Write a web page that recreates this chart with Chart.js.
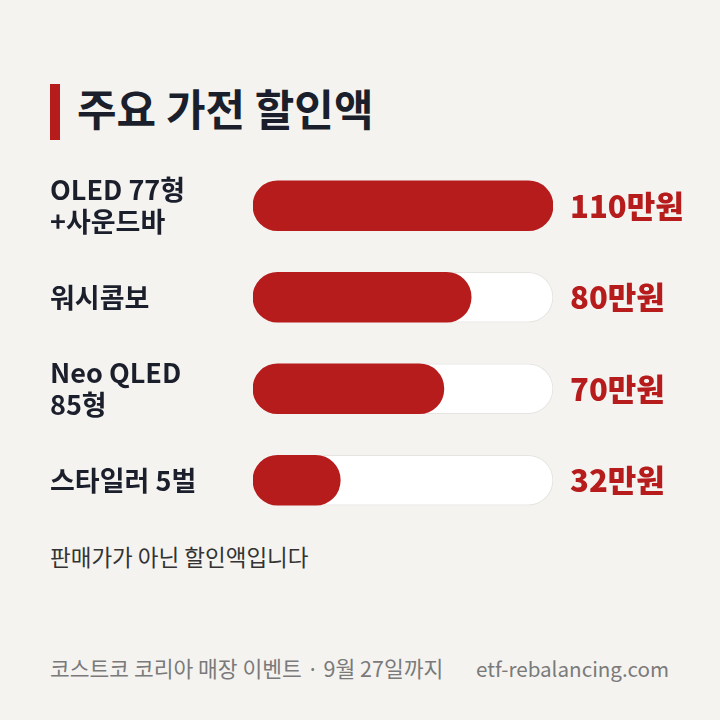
<!DOCTYPE html>
<html><head><meta charset="utf-8">
<script src="https://cdn.jsdelivr.net/npm/chart.js@4.4.1/dist/chart.umd.min.js"></script>
<style>
html,body{margin:0;padding:0;background:#f4f3f0;}
body{width:720px;height:720px;position:relative;overflow:hidden;font-family:"Noto Sans CJK KR","Noto Sans",sans-serif;}
#accent{position:absolute;left:50px;top:84px;width:10px;height:56px;background:#b71c1c;}
#title{position:absolute;left:77px;top:79px;line-height:56px;font-size:43px;font-weight:700;color:#1b1e2b;white-space:nowrap;}
#chartWrap{position:absolute;left:0;top:160px;width:720px;height:366px;}
#note{position:absolute;left:50px;top:540px;line-height:32px;font-size:22.5px;color:#333;white-space:nowrap;}
#footL{position:absolute;left:50px;top:652px;line-height:32px;font-size:21.5px;color:#7a7a7a;white-space:nowrap;}
#footR{position:absolute;right:51px;top:652px;line-height:32px;font-size:20.6px;color:#7a7a7a;white-space:nowrap;}
</style>
</head><body>
<div id="accent"></div>
<div id="title">주요 가전 할인액</div>
<div id="chartWrap"><canvas id="c" width="720" height="366"></canvas></div>
<div id="note">판매가가 아닌 할인액입니다</div>
<div id="footL">코스트코 코리아 매장 이벤트 · 9월 27일까지</div>
<div id="footR">etf-rebalancing.com</div>
<script>
const categories = [['OLED 77형', '+사운드바'], '워시콤보', ['Neo QLED', '85형'], '스타일러 5벌'];
const discounts = [110, 80, 70, 32];
const trackValues = [110, 110, 110, 110];
const unitSuffix = '만원';
const scaleMax = 110;

const FONT = '"Noto Sans CJK KR", "Noto Sans", sans-serif';
const RED = '#b71c1c';

const valueLabelPlugin = {
  id: 'valueLabels',
  afterDatasetsDraw(chart) {
    const ctx = chart.ctx;
    const meta = chart.getDatasetMeta(0);
    const right = chart.chartArea.right;
    ctx.save();
    ctx.font = '900 31px ' + FONT;
    ctx.fillStyle = RED;
    ctx.textAlign = 'left';
    ctx.textBaseline = 'middle';
    meta.data.forEach((bar, i) => {
      ctx.fillText(discounts[i] + unitSuffix, right + 17, bar.y);
    });
    ctx.restore();
  }
};

new Chart(document.getElementById('c'), {
  type: 'bar',
  data: {
    labels: categories,
    datasets: [
      {
        data: discounts,
        backgroundColor: RED,
        borderRadius: 25,
        borderSkipped: false,
        grouped: false,
        barThickness: 50,
        order: 0
      },
      {
        data: trackValues,
        backgroundColor: '#ffffff',
        borderColor: '#e6e4e1',
        borderWidth: 1,
        borderRadius: 25,
        borderSkipped: false,
        grouped: false,
        barThickness: 50,
        order: 1
      }
    ]
  },
  options: {
    indexAxis: 'y',
    responsive: false,
    animation: false,
    layout: { padding: { left: 50, right: 167, top: 0, bottom: 0 } },
    scales: {
      x: { display: false, min: 0, max: scaleMax },
      y: {
        grid: { display: false },
        border: { display: false },
        ticks: {
          crossAlign: 'far',
          padding: 0,
          color: '#1b1e2b',
          font: { family: FONT, size: 27, weight: 'bold', lineHeight: 1.18 }
        },
        afterFit(scale) {
          scale.width = 203;
          scale.paddingTop = 0;
          scale.paddingBottom = 0;
        }
      }
    },
    plugins: { legend: { display: false }, tooltip: { enabled: false } }
  },
  plugins: [valueLabelPlugin]
});
</script>
</body></html>
